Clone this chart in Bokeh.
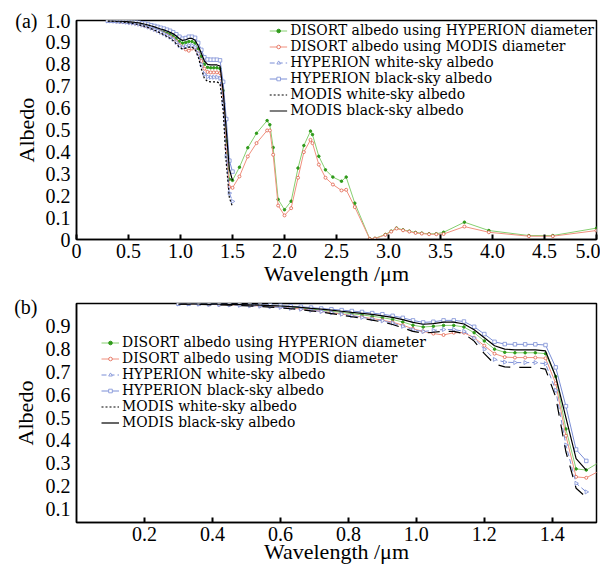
import math
from bokeh.plotting import figure
from bokeh.models import Legend, LegendItem, FixedTicker, LinearAxis, Range1d
from bokeh.layouts import column
from bokeh.embed import file_html
from bokeh.resources import INLINE

# ---------------- data ----------------
wl_short = [0.30, 0.33, 0.36, 0.39, 0.42, 0.45, 0.48, 0.51, 0.54, 0.57, 0.60,
            0.63, 0.66, 0.69, 0.72, 0.75, 0.78, 0.81, 0.84, 0.87, 0.90, 0.93,
            0.96, 0.99, 1.02, 1.05, 1.08, 1.11, 1.14, 1.17, 1.20, 1.23, 1.26,
            1.29, 1.32, 1.35, 1.38, 1.41, 1.44, 1.47, 1.50]

modis_black = [0.998, 0.998, 0.998, 0.997, 0.997, 0.996, 0.995, 0.994, 0.993, 0.991, 0.989,
               0.986, 0.983, 0.979, 0.975, 0.971, 0.966, 0.961, 0.957, 0.952, 0.946, 0.939,
               0.929, 0.917, 0.909, 0.912, 0.918, 0.918, 0.910, 0.885, 0.850, 0.815, 0.800,
               0.797, 0.797, 0.797, 0.792, 0.680, 0.500, 0.320, 0.270]

modis_white = [0.997, 0.997, 0.996, 0.995, 0.994, 0.993, 0.991, 0.989, 0.987, 0.984, 0.981,
               0.977, 0.973, 0.968, 0.962, 0.956, 0.949, 0.942, 0.935, 0.927, 0.919, 0.908,
               0.893, 0.878, 0.870, 0.874, 0.878, 0.878, 0.868, 0.835, 0.780, 0.735, 0.722,
               0.720, 0.720, 0.720, 0.712, 0.590, 0.350, 0.190, 0.150]

hyp_black = [0.999, 0.999, 0.999, 0.998, 0.998, 0.997, 0.996, 0.995, 0.994, 0.993, 0.991,
             0.988, 0.986, 0.982, 0.978, 0.975, 0.971, 0.967, 0.963, 0.958, 0.953, 0.946,
             0.937, 0.926, 0.917, 0.920, 0.926, 0.926, 0.921, 0.898, 0.866, 0.832, 0.822,
             0.821, 0.821, 0.821, 0.818, 0.720, 0.550, 0.360, 0.310]

hyp_white = [0.998, 0.998, 0.997, 0.996, 0.995, 0.994, 0.992, 0.990, 0.988, 0.986, 0.983,
             0.979, 0.975, 0.970, 0.965, 0.959, 0.953, 0.946, 0.939, 0.932, 0.924, 0.914,
             0.900, 0.885, 0.877, 0.882, 0.886, 0.886, 0.878, 0.848, 0.800, 0.755, 0.743,
             0.741, 0.741, 0.741, 0.736, 0.620, 0.380, 0.212, 0.174]

disort_hyp_short = [0.998, 0.998, 0.998, 0.997, 0.996, 0.995, 0.994, 0.993, 0.992, 0.990, 0.987,
                    0.984, 0.980, 0.976, 0.971, 0.966, 0.961, 0.955, 0.950, 0.944, 0.938, 0.930,
                    0.919, 0.905, 0.897, 0.900, 0.904, 0.904, 0.897, 0.872, 0.836, 0.800, 0.786,
                    0.784, 0.784, 0.784, 0.780, 0.680, 0.450, 0.275, 0.270]

disort_modis_short = [0.998, 0.998, 0.997, 0.996, 0.995, 0.994, 0.993, 0.991, 0.989, 0.987, 0.984,
                      0.980, 0.976, 0.971, 0.966, 0.960, 0.954, 0.947, 0.941, 0.934, 0.927, 0.918,
                      0.905, 0.889, 0.878, 0.868, 0.862, 0.872, 0.872, 0.850, 0.815, 0.780, 0.765,
                      0.763, 0.763, 0.763, 0.760, 0.650, 0.420, 0.240, 0.236]

wl_long = [1.567, 1.647, 1.731, 1.833, 1.859, 1.891, 1.939, 2.000, 2.064, 2.130, 2.186,
           2.250, 2.269, 2.330, 2.394, 2.465, 2.548, 2.593, 2.676, 2.820, 2.870, 2.970,
           3.026, 3.077, 3.140, 3.200, 3.260, 3.320, 3.390, 3.460, 3.530, 3.730, 3.965,
           4.350, 4.580, 5.000]

disort_hyp_long = [0.330, 0.419, 0.485, 0.543, 0.524, 0.420, 0.183, 0.136, 0.175, 0.326, 0.429,
                   0.495, 0.479, 0.380, 0.318, 0.285, 0.266, 0.285, 0.166, 0.003, 0.005, 0.023,
                   0.038, 0.052, 0.044, 0.038, 0.032, 0.029, 0.026, 0.026, 0.033, 0.079, 0.041,
                   0.018, 0.018, 0.052]

disort_modis_long = [0.288, 0.379, 0.440, 0.498, 0.498, 0.387, 0.155, 0.110, 0.143, 0.282, 0.399,
                     0.455, 0.440, 0.342, 0.282, 0.251, 0.224, 0.227, 0.148, 0.002, 0.004, 0.021,
                     0.036, 0.050, 0.042, 0.036, 0.030, 0.027, 0.024, 0.024, 0.025, 0.059, 0.033,
                     0.015, 0.015, 0.041]

labels = ["DISORT albedo using HYPERION diameter",
          "DISORT albedo using MODIS diameter",
          "HYPERION white-sky albedo",
          "HYPERION black-sky albedo",
          "MODIS white-sky albedo",
          "MODIS black-sky albedo"]

x_ticks_a = [0, 0.5, 1.0, 1.5, 2.0, 2.5, 3.0, 3.5, 4.0, 4.5, 5.0]
x_tick_labels_a = ["0", "0.5", "1.0", "1.5", "2.0", "2.5", "3.0", "3.5", "4.0", "4.5", "5.0"]
y_ticks_a = [0, 0.1, 0.2, 0.3, 0.4, 0.5, 0.6, 0.7, 0.8, 0.9, 1.0]
y_tick_labels_a = ["0", "0.1", "0.2", "0.3", "0.4", "0.5", "0.6", "0.7", "0.8", "0.9", "1.0"]
x_ticks_b = [0.2, 0.4, 0.6, 0.8, 1.0, 1.2, 1.4]
x_tick_labels_b = ["0.2", "0.4", "0.6", "0.8", "1.0", "1.2", "1.4"]
y_ticks_b = [0.1, 0.2, 0.3, 0.4, 0.5, 0.6, 0.7, 0.8, 0.9]
y_tick_labels_b = ["0.1", "0.2", "0.3", "0.4", "0.5", "0.6", "0.7", "0.8", "0.9"]

wl_disort = wl_short + wl_long
disort_hyp = disort_hyp_short + disort_hyp_long
disort_modis = disort_modis_short + disort_modis_long

# ---------------- style ----------------
FONT = "Liberation Serif"
LEG_FONT = "DejaVu Serif"
GREEN_L = "#86cf70"
GREEN_M = "#2f9a1a"
RED_L = "#f0907e"
RED_M = "#e0604a"
BLUE = "#7b8ed6"


def make_panel(xr, yr, xt, xtl, yt, ytl, height, mb_top, mb_bottom, xlabel_standoff,
               tag, tag_y, legend_loc, modis_white_dash):
    p = figure(width=600, height=height, x_range=Range1d(*xr), y_range=Range1d(*yr),
               output_backend="svg", toolbar_location=None,
               min_border_left=76, min_border_right=4,
               min_border_top=mb_top, min_border_bottom=mb_bottom)
    p.xgrid.visible = False
    p.ygrid.visible = False
    p.outline_line_color = "black"
    p.outline_line_width = 1.5
    p.outline_line_alpha = 1.0

    for ax in (p.xaxis[0], p.yaxis[0]):
        ax.axis_line_width = 1.5
        ax.axis_line_color = "black"
        ax.major_label_text_font = FONT
        ax.major_label_text_font_size = "20px"
        ax.major_label_text_color = "black"
        ax.axis_label_text_font = FONT
        ax.axis_label_text_font_size = "22px"
        ax.axis_label_text_font_style = "normal"
        ax.axis_label_text_color = "black"
        ax.minor_tick_line_color = None
    p.xaxis.ticker = FixedTicker(ticks=xt)
    p.xaxis.major_label_overrides = dict(zip(xt, xtl))
    p.yaxis.ticker = FixedTicker(ticks=yt)
    p.yaxis.major_label_overrides = dict(zip(yt, ytl))
    p.xaxis.major_tick_in = 5
    p.xaxis.major_tick_out = 0
    p.xaxis.major_tick_line_width = 2
    p.yaxis.major_tick_in = 0
    p.yaxis.major_tick_out = 0
    p.xaxis.major_label_standoff = 4
    p.yaxis.major_label_standoff = 6
    p.xaxis.axis_label_standoff = xlabel_standoff
    p.xaxis.axis_label = "Wavelength /\u03bcm"

    # outer left axis: panel tag and the "Albedo" title
    tag_axis = LinearAxis(ticker=FixedTicker(ticks=[tag_y]),
                          major_label_overrides={tag_y: tag},
                          axis_line_color=None, major_tick_line_color=None,
                          minor_tick_line_color=None,
                          major_label_standoff=-1,
                          major_label_text_font=FONT, major_label_text_font_size="20px",
                          major_label_text_color="black",
                          axis_label="Albedo", axis_label_standoff=-27,
                          axis_label_text_font=FONT, axis_label_text_font_size="22px",
                          axis_label_text_font_style="normal", axis_label_text_color="black")
    p.add_layout(tag_axis, "left")

    g_l = p.line(wl_disort, disort_hyp, line_color=GREEN_L, line_width=1)
    g_s = p.scatter(wl_disort, disort_hyp, marker="circle", size=2.5, line_color=GREEN_M, fill_color=GREEN_M)
    r_l = p.line(wl_disort, disort_modis, line_color=RED_L, line_width=1)
    r_s = p.scatter(wl_disort, disort_modis, marker="circle", size=3, line_color=RED_M, fill_color="white",
                    line_width=0.8)
    hw_l = p.line(wl_short, hyp_white, line_color=BLUE, line_width=1, line_dash="5 3")
    hw_s = p.scatter(wl_short, hyp_white, marker="triangle", angle=-math.pi / 2, size=4,
                     line_color=BLUE, fill_color="white", line_width=0.8)
    hb_l = p.line(wl_short, hyp_black, line_color=BLUE, line_width=1)
    hb_s = p.scatter(wl_short, hyp_black, marker="square", size=3.5, line_color=BLUE, fill_color="white",
                     line_width=0.8)
    mw_l = p.line(wl_short, modis_white, line_color="black", line_width=1.2, line_dash=modis_white_dash)
    mb_l = p.line(wl_short, modis_black, line_color="black", line_width=1.2)
    # legend sample for the white-sky MODIS line (a single point draws nothing on the plot)
    mw_leg = p.line(wl_short[:1], modis_white[:1], line_color="black", line_width=1.2, line_dash="2 2")

    items = [LegendItem(label=labels[0], renderers=[g_l, g_s]),
             LegendItem(label=labels[1], renderers=[r_l, r_s]),
             LegendItem(label=labels[2], renderers=[hw_l, hw_s]),
             LegendItem(label=labels[3], renderers=[hb_l, hb_s]),
             LegendItem(label=labels[4], renderers=[mw_leg]),
             LegendItem(label=labels[5], renderers=[mb_l])]
    leg = Legend(items=items, location=legend_loc,
                 label_text_font=LEG_FONT, label_text_font_size="13.9px", label_text_color="black",
                 glyph_width=18, glyph_height=9, label_height=16, label_standoff=3,
                 spacing=0, padding=2, margin=2,
                 border_line_color=None, background_fill_color="white", background_fill_alpha=1.0)
    p.add_layout(leg)
    return p


pa = make_panel((0, 5.0), (0, 1.0), x_ticks_a, x_tick_labels_a, y_ticks_a, y_tick_labels_a,
                height=288, mb_top=20, mb_bottom=49, xlabel_standoff=0,
                tag="(a)", tag_y=1.0, legend_loc="top_right", modis_white_dash="2 2")
pb = make_panel((0, 1.53), (0.04, 1.0), x_ticks_b, x_tick_labels_b, y_ticks_b, y_tick_labels_b,
                height=278, mb_top=15, mb_bottom=44, xlabel_standoff=-5,
                tag="(b)", tag_y=0.985, legend_loc=(25, 92), modis_white_dash="12 9")

layout = column(pa, pb, spacing=0)
open("out.html", "w").write(file_html(layout, INLINE))
